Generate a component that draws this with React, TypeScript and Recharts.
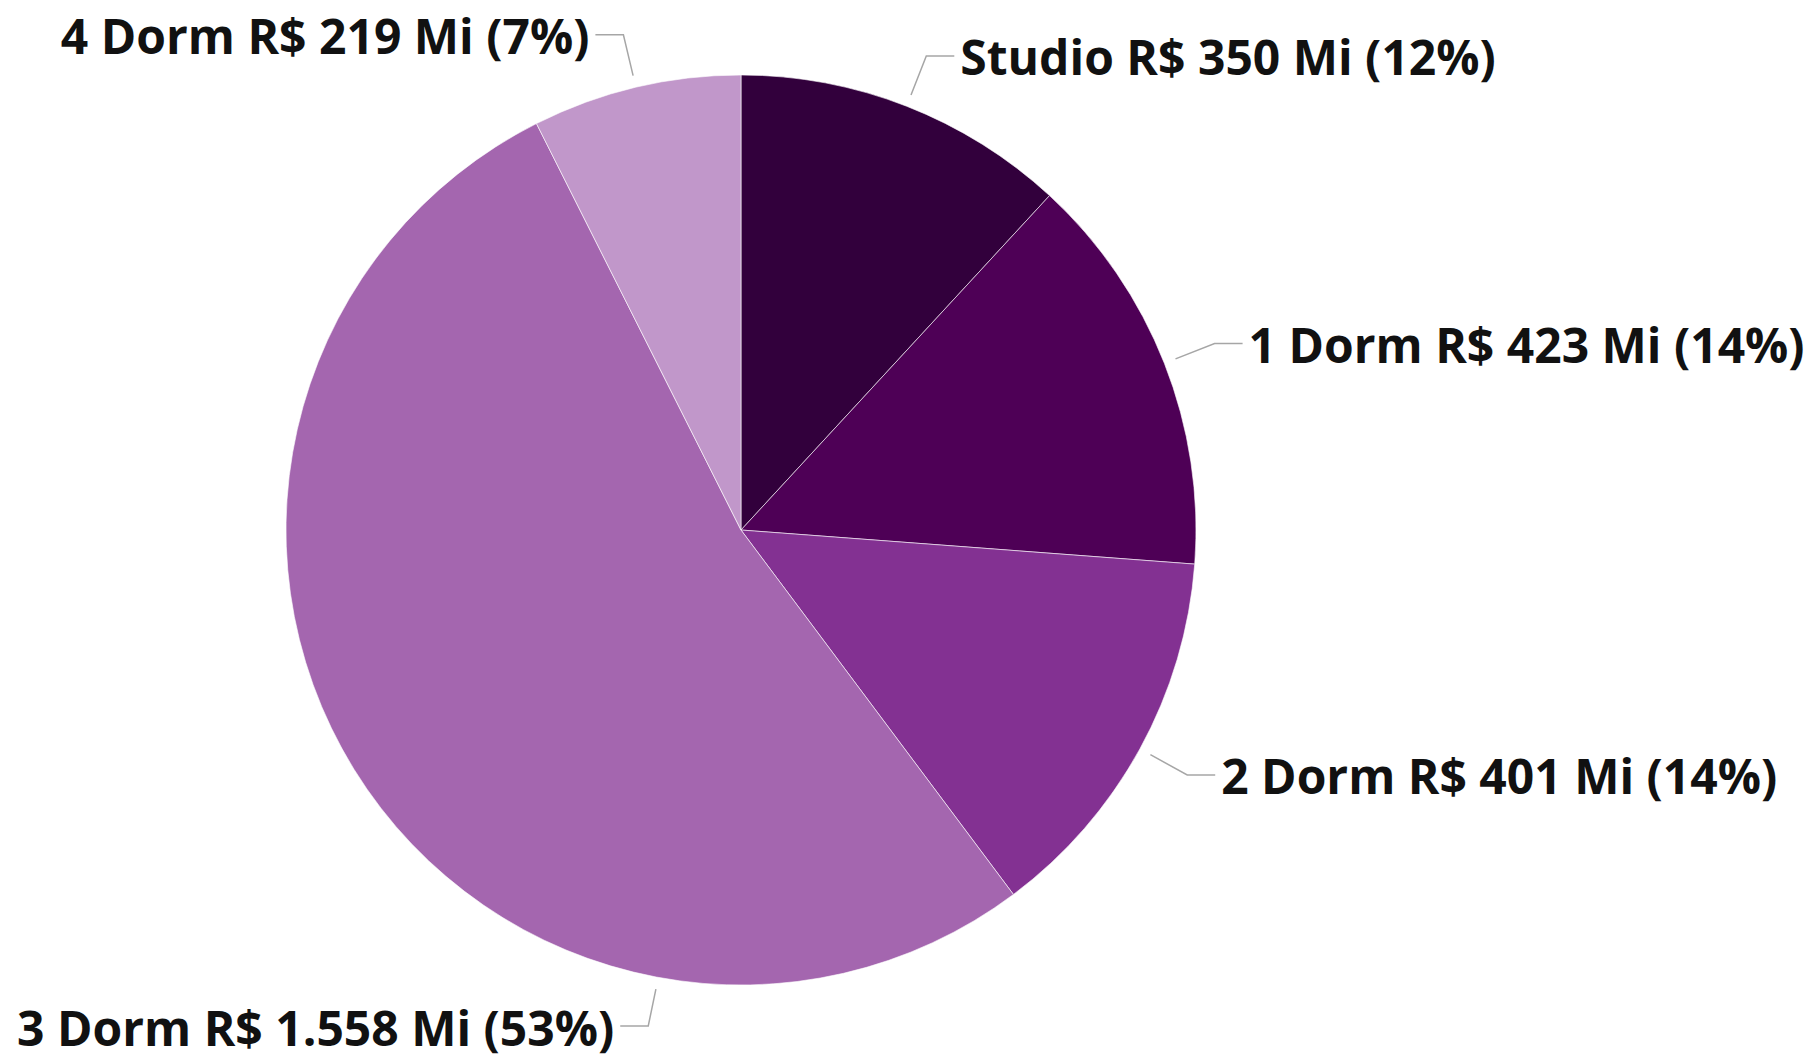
import { PieChart, Pie, Cell } from "recharts";

const categories = ["Studio", "1 Dorm", "2 Dorm", "3 Dorm", "4 Dorm"];
const values = [350, 423, 401, 1558, 219];

const colors = ["#32003c", "#4e0056", "#833192", "#a466af", "#c197ca"];

// labels that would collide get moved to a fixed angle (degrees, recharts convention)
const labelAngleOverride: Record<string, number> = { "3 Dorm": -100.5 };

const RAD = Math.PI / 180;

const chartData = categories.map((name, i) => ({ name, value: values[i] }));

const formatValue = (v: number) => v.toLocaleString("pt-BR");

function renderLabel(props: any) {
  const { cx, cy, midAngle, outerRadius, name, value, percent } = props;
  const angle = labelAngleOverride[name] ?? midAngle;
  const cos = Math.cos(-angle * RAD);
  const sin = Math.sin(-angle * RAD);
  const sx = cx + (outerRadius + 12) * cos;
  const sy = cy + (outerRadius + 12) * sin;
  const mx = cx + (outerRadius + 54) * cos;
  const my = Math.min(cy + (outerRadius + 54) * sin, 1026);
  const right = cos >= 0;
  const ex = mx + (right ? 28 : -28);
  const text = `${name} R$ ${formatValue(value)} Mi (${Math.round(percent * 100)}%)`;
  return (
    <g>
      <path
        d={`M${sx},${sy}L${mx},${my}L${ex},${my}`}
        stroke="#a6a6a6"
        strokeWidth={1.5}
        fill="none"
      />
      <text
        x={ex + (right ? 6 : -6)}
        y={my + 1}
        textAnchor={right ? "start" : "end"}
        dominantBaseline="central"
        fill="#111111"
        fontFamily="'Open Sans', sans-serif"
        fontWeight={700}
        fontSize={48}
      >
        {text}
      </text>
    </g>
  );
}

export default function App() {
  return (
    <div style={{ position: "absolute", left: 0, top: 0, background: "#fff" }}>
      <PieChart width={1812} height={1061}>
        <Pie
          data={chartData}
          dataKey="value"
          nameKey="name"
          cx={736}
          cy={525}
          outerRadius={455}
          startAngle={90}
          endAngle={-270}
          stroke="#ffffff"
          strokeWidth={0.6}
          label={renderLabel}
          labelLine={false}
          isAnimationActive={false}
        >
          {chartData.map((entry, index) => (
            <Cell key={`cell-${index}`} fill={colors[index]} />
          ))}
        </Pie>
      </PieChart>
    </div>
  );
}
